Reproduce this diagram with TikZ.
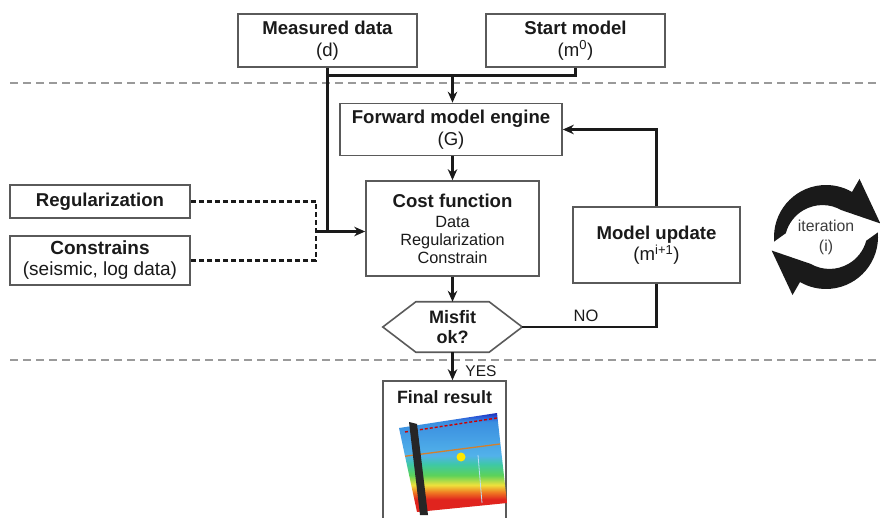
\documentclass[tikz,border=0pt]{standalone}
\usepackage{fontspec}
\setmainfont{Liberation Sans}
\usetikzlibrary{arrows.meta,calc}

\definecolor{boxline}{HTML}{5A5A5A}
\definecolor{ink}{HTML}{1A1A1A}
\definecolor{sepgray}{HTML}{9A9A9A}
% colours of the velocity section
\definecolor{sred}{HTML}{E0241E}
\definecolor{sorange}{HTML}{F07A22}
\definecolor{syellow}{HTML}{EEE23C}
\definecolor{sgreen}{HTML}{5CD25A}
\definecolor{steal}{HTML}{3EC8A6}
\definecolor{slight}{HTML}{52B2EA}
\definecolor{smid}{HTML}{3A8EE0}
\definecolor{sdeep}{HTML}{2A5AD8}
\definecolor{sdark}{HTML}{1E2EB8}

% the path box is mapped onto the middle 25bp..75bp of the shading
\pgfdeclareverticalshading{seis}{100bp}{%
  color(0bp)=(sred); color(37bp)=(sred); color(40bp)=(sorange);
  color(43bp)=(syellow); color(47bp)=(sgreen); color(51.5bp)=(steal);
  color(55bp)=(slight); color(69bp)=(smid); color(71bp)=(sdeep);
  color(72.5bp)=(sdark); color(100bp)=(sdark)}

\begin{document}
\begin{tikzpicture}[x=1pt,y=1pt,
  box/.style={draw=boxline, line width=1.6pt, fill=white, align=center,
    inner sep=0pt, text=ink},
  big/.style={font=\fontsize{18.6}{21.5}\selectfont},
  conn/.style={line width=2.9pt, draw=ink},
  arr/.style={conn, -{Stealth[length=11pt,width=9.5pt]}},
  dotconn/.style={line width=2.6pt, draw=ink, dash pattern=on 5pt off 3pt},
  sepline/.style={draw=sepgray, line width=1.4pt, dash pattern=on 8pt off 5pt},
  lbl/.style={text=ink, inner sep=0pt, font=\fontsize{16.5}{19}\selectfont}
]
\useasboundingbox (0,0) rectangle (880,517);

% phase separators
\draw[sepline] (10,434) -- (880,434);
\draw[sepline] (10,157) -- (880,157);

% boxes
\node[box, big, minimum width=179pt, minimum height=53pt] (meas) at (327.5,476.5)
  {\textbf{Measured data}\\(d)};
\node[box, big, minimum width=179pt, minimum height=53pt] (start) at (575.5,476.5)
  {\textbf{Start model}\\(m\textsuperscript{0})};
\node[box, big, minimum width=222pt, minimum height=52pt] (fwd) at (451,387.5)
  {\textbf{Forward model engine}\\(G)};
\node[box, minimum width=173pt, minimum height=95pt,
  font=\fontsize{16.3}{18}\selectfont] (cost) at (452.5,288.5)
  {{\fontsize{18.6}{18}\selectfont\bfseries Cost function}\\[2pt]Data\\Regularization\\Constrain};
\node[box, big, minimum width=180pt, minimum height=33pt] (reg) at (100,315.5)
  {\textbf{Regularization}};
\node[box, minimum width=180pt, minimum height=49pt,
  font=\fontsize{19}{21}\selectfont] (cons) at (100,256.5)
  {\textbf{Constrains}\\(seismic, log data)};
\node[box, big, minimum width=167pt, minimum height=76pt] (upd) at (656.5,272)
  {\textbf{Model update}\\(m\textsuperscript{i+1})};

% decision hexagon
\node[align=center, text=ink, inner sep=0pt, minimum width=139pt, minimum height=50pt,
  font=\fontsize{18}{20}\selectfont\bfseries] (misfit) at (452.5,190) {Misfit\\ok?};
\draw[draw=boxline, line width=1.6pt]
  ($(misfit.north west)+(33,0)$) -- ($(misfit.north east)+(-33,0)$) -- (misfit.east)
  -- ($(misfit.south east)+(-33,0)$) -- ($(misfit.south west)+(33,0)$) -- (misfit.west) -- cycle;

% final result box, running past the lower edge
\node[box, minimum width=123pt, minimum height=172pt] (final) at (444.5,50) {};
\node[text=ink, inner sep=0pt, anchor=base, font=\fontsize{17.8}{20}\selectfont\bfseries]
  (finaltitle) at (444.5,114) {Final result};

% velocity section inside the result box
\begin{scope}
  \clip (399,89) -- (497,104) -- (507,14) -- (417,5) -- cycle;
  \shade[shading=seis, rotate around={8.7:(452,55)}] (370,0) rectangle (535,98);
  \draw[draw=red!80!black, line width=1.4pt, dash pattern=on 3pt off 2pt]
    (405,85) -- (497,99);
  \draw[draw=brown!70!orange, line width=1.3pt] (399,60) -- (500,73);
  \fill[yellow!90!orange] (461,60) circle (4.5);
  \draw[draw=white!60!slight, line width=0.8pt] (478,62) -- (482,14);
\end{scope}
\fill[black!85] (409,95) -- (417,93) -- (428,2) -- (420,2) -- cycle;

% iteration cycle
\coordinate (cyc) at (826,280);
\begin{scope}[shift={(cyc)}]
  \fill[ink] (185:52) arc[start angle=185, end angle=60, radius=52]
    -- (60:67) -- (14:56) -- (60:31)
    arc[start angle=60, end angle=165, radius=38] -- cycle;
  \fill[ink, rotate=180] (185:52) arc[start angle=185, end angle=60, radius=52]
    -- (60:67) -- (14:56) -- (60:31)
    arc[start angle=60, end angle=165, radius=38] -- cycle;
\end{scope}
\node[text=ink!85, align=center, inner sep=0pt, font=\fontsize{15.8}{20}\selectfont]
  (iter) at (cyc) {iteration\\(i)};

% junction points
\coordinate (top) at (452.5,441.5);
\coordinate (join) at (316,285.5);

% connectors
\draw[conn] (meas.south) -- (meas.south |- top) -- (start.south |- top) -- (start.south);
\draw[arr] (top) -- (top |- fwd.north);
\draw[conn] (meas.south) -- (meas.south |- join);
\draw[arr] (join) -- (join -| cost.west);
\draw[dotconn] (reg.east) -- (reg.east -| join) -- (cons.east -| join) -- (cons.east);
\draw[arr] (cost.north |- fwd.south) -- (cost.north);
\draw[arr] (cost.south) -- (misfit.north);
\draw[conn] (misfit.east) -- (misfit.east -| upd.south) -- (upd.south);
\draw[arr] (upd.north) -- (upd.north |- fwd.east) -- (fwd.east);
\draw[arr] (misfit.south) -- (misfit.south |- final.north);

% branch labels
\node[lbl] (no) at (586,201) {NO};
\node[lbl, font=\fontsize{15.5}{18}\selectfont] (yes) at (481,146) {YES};
\end{tikzpicture}
\end{document}
